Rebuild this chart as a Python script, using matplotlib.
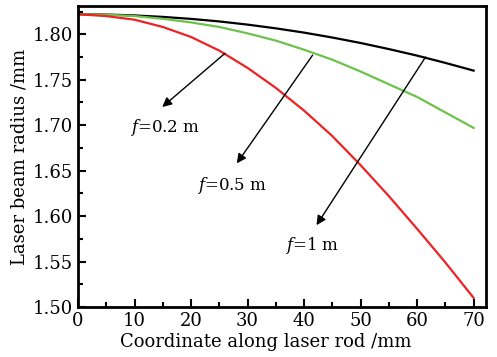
import numpy as np
import matplotlib
matplotlib.use('Agg')
import matplotlib.pyplot as plt
from matplotlib.ticker import MultipleLocator

plt.rcParams['font.family'] = 'DejaVu Serif'
plt.rcParams['mathtext.fontset'] = 'dejavuserif'

# data
x = [0, 5, 10, 15, 20, 25, 30, 35, 40, 45, 50, 55, 60, 65, 70]
r_black = [1.822, 1.8217, 1.8207, 1.8191, 1.8169, 1.8141, 1.8106, 1.8065,
           1.8018, 1.7964, 1.7904, 1.7837, 1.7765, 1.7685, 1.760]
r_green = [1.822, 1.8215, 1.820, 1.817, 1.813, 1.808, 1.801, 1.793,
           1.783, 1.772, 1.759, 1.745, 1.731, 1.714, 1.697]
r_red = [1.822, 1.820, 1.816, 1.808, 1.797, 1.782, 1.763, 1.741,
         1.716, 1.688, 1.656, 1.622, 1.586, 1.549, 1.510]

labels = ['$f$=0.2 m', '$f$=0.5 m', '$f$=1 m']
arrow_from = [(26.0, 1.779), (41.5, 1.777), (61.5, 1.775)]
arrow_to = [(14.9, 1.720), (28.1, 1.658), (42.2, 1.590)]
label_pos = [(15.4, 1.697), (27.2, 1.634), (41.4, 1.568)]

fig = plt.figure(figsize=(4.97, 3.57), dpi=100)
ax = fig.add_axes([0.157, 0.140, 0.821, 0.843])

ax.plot(x, r_black, color='black', lw=1.6)
ax.plot(x, r_green, color='#6cc24a', lw=1.6)
ax.plot(x, r_red, color='#ee2222', lw=1.6)

for lab, p0, p1, pt in zip(labels, arrow_from, arrow_to, label_pos):
    ax.annotate('', xy=p1, xytext=p0,
                arrowprops=dict(arrowstyle='-|>', color='black', lw=1.0,
                                mutation_scale=14, shrinkA=0, shrinkB=0))
    ax.text(pt[0], pt[1], lab, fontsize=12, ha='center', va='center')

ax.set_xlim(0, 72.2)
ax.set_ylim(1.50, 1.831)
ax.xaxis.set_major_locator(MultipleLocator(10))
ax.xaxis.set_minor_locator(MultipleLocator(5))
ax.yaxis.set_major_locator(MultipleLocator(0.05))
ax.yaxis.set_minor_locator(MultipleLocator(0.025))
ax.yaxis.set_major_formatter(plt.FormatStrFormatter('%.2f'))
ax.tick_params(which='both', direction='in', width=1.5, labelsize=13)
ax.tick_params(which='major', length=6)
ax.tick_params(which='minor', length=3.5)
for s in ax.spines.values():
    s.set_linewidth(2)

ax.set_xlabel('Coordinate along laser rod /mm', fontsize=13, labelpad=1)
ax.xaxis.set_label_coords(0.461, -0.085)
ax.set_ylabel('Laser beam radius /mm', fontsize=13, labelpad=3)

fig.savefig('out.png', dpi=100)
